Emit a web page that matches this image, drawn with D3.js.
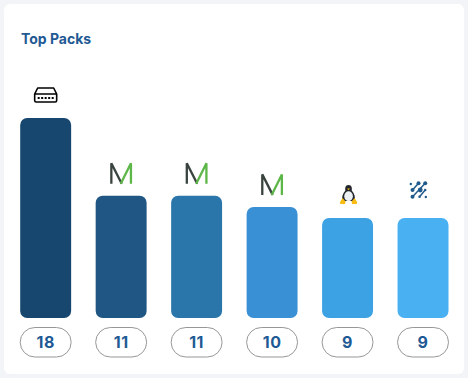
<!DOCTYPE html>
<html>
<head>
<meta charset="utf-8">
<script src="https://cdn.jsdelivr.net/npm/d3@7"></script>
<style>
  html, body { margin: 0; padding: 0; background: #f2f4f7; }
  svg { display: block; font-family: Inter, Lato, sans-serif; }
</style>
</head>
<body>
<div id="chart-area"></div>
<script>
// Top Packs
var packs = ["Switch", "Meraki A", "Meraki B", "Meraki C", "Linux", "Fabric"];
var counts = [18, 11, 11, 10, 9, 9];
var barColors = ["#17476f", "#1f5683", "#2a76ab", "#3a90d4", "#3ca2e4", "#49b0f2"];
var icons = ["switch", "m", "m", "m", "linux", "dots"];

var width = 468, height = 378;

var drawIcon = { "switch": drawSwitch, "m": drawM, "linux": drawLinux, "dots": drawDots };

var svg = d3.select("#chart-area")
    .append("svg")
        .attr("width", width)
        .attr("height", height);

// Card
svg.append("rect")
    .attr("x", 4).attr("y", 4)
    .attr("width", 460).attr("height", 370)
    .attr("rx", 6)
    .attr("fill", "#fff");

svg.append("text")
    .attr("x", 21).attr("y", 44)
    .attr("font-size", "14px")
    .attr("font-weight", 700)
    .attr("fill", "#1f5a94")
    .text("Top Packs");

// Scales
var x = d3.scaleBand()
    .domain(packs)
    .range([20.2, 448.5])
    .paddingInner(0.325);

var y = d3.scaleLinear()
    .domain([0, 18])
    .range([318, 118]);

// Bars
svg.selectAll("rect.bar")
    .data(packs)
    .enter().append("rect")
        .attr("class", "bar")
        .attr("x", d => x(d))
        .attr("y", (d, i) => y(counts[i]))
        .attr("width", x.bandwidth())
        .attr("height", (d, i) => y(0) - y(counts[i]))
        .attr("rx", 7)
        .attr("fill", (d, i) => barColors[i]);

// Count pills
var pills = svg.selectAll("g.pill")
    .data(packs)
    .enter().append("g")
        .attr("class", "pill")
        .attr("transform", d => "translate(" + x(d) + ",327.5)");

pills.append("rect")
    .attr("width", x.bandwidth())
    .attr("height", 29.5)
    .attr("rx", 14.7)
    .attr("fill", "#fff")
    .attr("stroke", "#979797");

pills.append("text")
    .attr("x", x.bandwidth() / 2)
    .attr("y", 20.5)
    .attr("text-anchor", "middle")
    .attr("font-size", "16px")
    .attr("font-weight", 700)
    .attr("letter-spacing", "0.5px")
    .attr("fill", "#1f5a94")
    .text((d, i) => counts[i]);

// Icons sit 23px above each bar
svg.selectAll("g.icon")
    .data(packs)
    .enter().append("g")
        .attr("class", "icon")
        .attr("transform", (d, i) => "translate(" + (x(d) + x.bandwidth() / 2) + "," + (y(counts[i]) - 23) + ")")
        .each(function(d, i) { drawIcon[icons[i]](d3.select(this)); });

function drawSwitch(g) {
    g.append("path")
        .attr("d", "M-8,-7 H8 L11,-1 V5.5 Q11,7 9.5,7 H-9.5 Q-11,7 -11,5.5 V-1 Z M-11,-1 H11")
        .attr("fill", "none")
        .attr("stroke", "#000")
        .attr("stroke-width", 1.6)
        .attr("stroke-linejoin", "round");
    g.selectAll("rect")
        .data([-7, -3.5, 0, 3.5, 7])
        .enter().append("rect")
            .attr("x", d => d - 1)
            .attr("y", 2)
            .attr("width", 2)
            .attr("height", 2)
            .attr("fill", "#000");
}

function drawM(g) {
    g.append("path")
        .attr("d", "M-9.8,11 V-9.5 L0.6,11")
        .attr("fill", "none")
        .attr("stroke", "#3a443e")
        .attr("stroke-width", 2.3)
        .attr("stroke-linejoin", "bevel");
    g.append("path")
        .attr("d", "M-0.4,11 L9.8,-9.5 V11")
        .attr("fill", "none")
        .attr("stroke", "#5db648")
        .attr("stroke-width", 2.3)
        .attr("stroke-linejoin", "bevel");
}

function drawLinux(g) {
    g.attr("transform", g.attr("transform") + " translate(1,-0.5)");
    // body
    g.append("path")
        .attr("d", "M0,-9.5 C-3.5,-9.5 -3.5,-6 -3.2,-4 C-6,-1 -7,3 -6,6.5 L6,6.5 C7,3 6,-1 3.2,-4 C3.5,-6 3.5,-9.5 0,-9.5 Z")
        .attr("fill", "#22252b");
    g.append("ellipse")
        .attr("cx", 0).attr("cy", 1.8)
        .attr("rx", 4.3).attr("ry", 5)
        .attr("fill", "#eef1f4");
    g.append("path")
        .attr("d", "M-1.6,-6 L1.6,-6 L0,-4.2 Z")
        .attr("fill", "#f2b20f");
    // feet
    g.append("path")
        .attr("d", "M-8.8,8 L-6,3.5 L-3,7 L-3.5,9.5 L-8,9.5 Z M8.8,8 L6,3.5 L3,7 L3.5,9.5 L8,9.5 Z")
        .attr("fill", "#f7bd14");
}

function drawDots(g) {
    var color = "#1f5a8c";
    g.attr("transform", g.attr("transform") + " translate(-4.5,-5)");
    g.selectAll("path")
        .data(["M0,-6.7 L-6,0", "M6.7,-6.7 L-6,6.7", "M6.7,0 L1,6.7"])
        .enter().append("path")
            .attr("d", d => d)
            .attr("stroke", color)
            .attr("stroke-width", 1.5);
    g.selectAll("circle")
        .data([[-7.7, -6, 1.2], [0, -6.7, 2], [6.7, -6.7, 2], [-6, 0, 2], [1.7, 0, 2.4], [6.7, 0, 1.2], [-6, 6.7, 2], [1, 6.7, 1.3], [7.3, 7, 1.2]])
        .enter().append("circle")
            .attr("cx", d => d[0])
            .attr("cy", d => d[1])
            .attr("r", d => d[2])
            .attr("fill", color);
}
</script>
</body>
</html>
